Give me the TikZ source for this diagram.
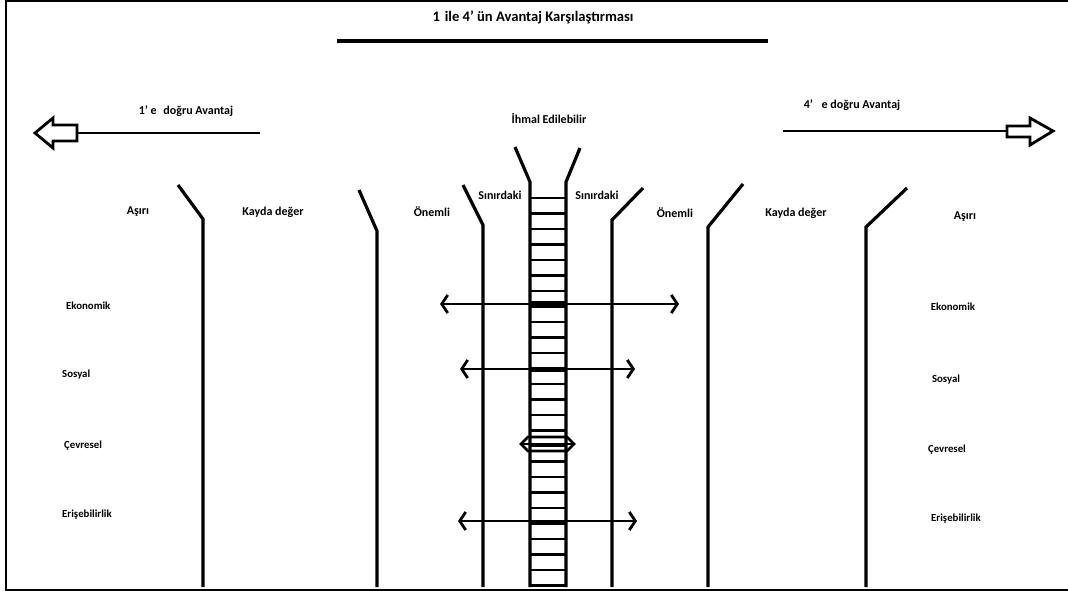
\documentclass[tikz,border=0pt]{standalone}
\usepackage{fontspec}
\setmainfont{Carlito}
\usetikzlibrary{arrows.meta}
\begin{document}
\begin{tikzpicture}[x=1pt,y=-1pt,
  lbl/.style={font=\bfseries\fontsize{12}{14}\selectfont, inner sep=0pt},
  sml/.style={font=\bfseries\fontsize{10.8}{12}\selectfont, inner sep=0pt},
  divider/.style={line width=3.2pt, line join=miter},
  rung/.style={line width=2.6pt},
  frame/.style={line width=2.2pt},
  dbl/.style={line width=2.8pt, {Straight Barb[length=6pt,width=18pt]}-{Straight Barb[length=6pt,width=18pt]}},
  block/.style={line width=2.8pt, line join=miter}]
\useasboundingbox (0,0) rectangle (1068,591);
% frame
\coordinate (fTL) at (6,1);
\coordinate (fTR) at (1068,1);
\coordinate (fBL) at (6,590);
\coordinate (fBR) at (1068,590);
\draw[frame] (fTR) -- (fTL) -- (fBL) -- (fBR);
% title
\node[font=\bfseries\fontsize{14.6}{16}\selectfont, inner sep=0pt] (title) at (533,17) {1\,\,ile 4' ün Avantaj Karşılaştırması};
\coordinate (tL) at (337,41);
\coordinate (tR) at (768,41);
\draw[line width=3.4pt] (tL) -- (tR);
% left block arrow
\node[lbl] (lLab) at (186,111) {1' e\,\, doğru Avantaj};
\coordinate (lA) at (77,133);
\coordinate (lE) at (260,133);
\draw[block] (lE) -- (lA);
\draw[block] (35,133) -- (53,118) -- (53,125) -- (77,125) -- (77,141) -- (53,141) -- (53,148) -- cycle;
% right block arrow
\node[lbl] (rLab) at (852,105) {4'\,\,\, e doğru Avantaj};
\coordinate (rA) at (1007,131);
\coordinate (rE) at (783,131);
\draw[block] (rE) -- (rA);
\draw[block] (1053,131) -- (1030,118) -- (1030,126) -- (1007,126) -- (1007,137) -- (1030,137) -- (1030,145) -- cycle;
% center label
\node[lbl] (ihmal) at (549,119) {İhmal Edilebilir};
% dividers
\draw[divider] (178,185) -- (203,219) -- (203,587);
\draw[divider] (359,190) -- (377,231) -- (377,587);
\draw[divider] (463,185) -- (483,225) -- (483,587);
\draw[divider] (643,188) -- (612,220) -- (612,587);
\draw[divider] (743,184) -- (708,227) -- (708,587);
\draw[divider] (907,188) -- (866,227) -- (866,587);
% ladder
\draw[divider] (515,147) -- (530,182) -- (530,587);
\draw[divider] (580,148) -- (566,182) -- (566,587);
\foreach \k in {0,...,25} {
  \draw[rung] (530,198+\k*15.5) -- (566,198+\k*15.5);
}
\draw[line width=5pt] (530,303) -- (566,303);
\draw[line width=5pt] (530,369) -- (566,369);
% column labels
\node[lbl] (a1) at (138,212) {Aşırı};
\node[lbl] (k1) at (273,212) {Kayda değer};
\node[lbl] (o1) at (432,212) {Önemli};
\node[lbl] (s1) at (500,195) {Sınırdaki};
\node[lbl] (s2) at (597,195) {Sınırdaki};
\node[lbl] (o2) at (675,213) {Önemli};
\node[lbl] (k2) at (796,213) {Kayda değer};
\node[lbl] (a2) at (965,217) {Aşırı};
% row labels left
\node[sml, anchor=west] (e1) at (66,306) {Ekonomik};
\node[sml, anchor=west] (so1) at (62,375) {Sosyal};
\node[sml, anchor=west] (c1) at (64,446) {Çevresel};
\node[sml, anchor=west] (er1) at (62,515) {Erişebilirlik};
% row labels right
\node[sml] (e2) at (953,307) {Ekonomik};
\node[sml] (so2) at (946,380) {Sosyal};
\node[sml] (c2) at (947,450) {Çevresel};
\node[sml] (er2) at (956,519) {Erişebilirlik};
% double arrows
\coordinate (d1L) at (440,304);
\coordinate (d1R) at (679,304);
\draw[dbl] (d1L) -- (d1R);
\coordinate (d2L) at (460,369);
\coordinate (d2R) at (635,369);
\draw[dbl] (d2L) -- (d2R);
\coordinate (d4L) at (458,521);
\coordinate (d4R) at (637,521);
\draw[dbl] (d4L) -- (d4R);
% small hexagonal double arrow
\coordinate (hL) at (521,444);
\coordinate (hR) at (574,444);
\draw[block] (hL) -- (528,437) -- (567,437) -- (hR) -- (567,451) -- (528,451) -- cycle;
\draw[rung] (hL) -- (hR);
\end{tikzpicture}
\end{document}
